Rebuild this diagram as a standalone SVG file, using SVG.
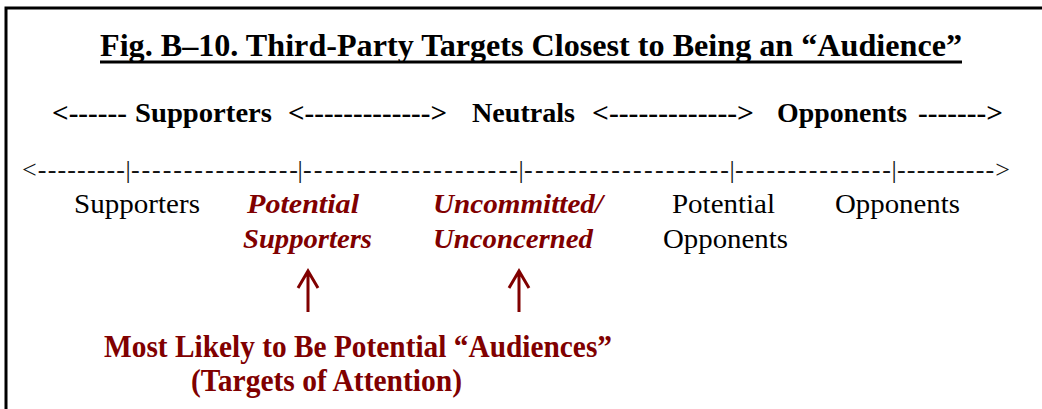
<svg xmlns="http://www.w3.org/2000/svg" width="1042" height="409" viewBox="0 0 1042 409">
<style>
.t{font-family:"Liberation Serif","Times New Roman",serif;}
.title{font-size:31px;font-weight:bold;fill:#000;}
.row{font-size:27px;font-weight:bold;fill:#000;}
.axis{font-size:26px;fill:#111;}
.lab{font-size:28px;fill:#000;}
.hl{font-size:28px;font-weight:bold;font-style:italic;fill:#800000;}
.bot{font-size:32px;font-weight:bold;fill:#800000;}
.arr{stroke:#800000;stroke-width:3;fill:none;}
.frame{stroke:#000;stroke-width:3;fill:none;}
</style>
<g id="frame">
<path class="frame" d="M6,409 V8 H1042"/>
</g>
<g id="title">
<text class="t title" x="100" y="56" textLength="862" lengthAdjust="spacingAndGlyphs">Fig. B–10. Third-Party Targets Closest to Being an “Audience”</text>
<rect x="100" y="60.5" width="862" height="3" fill="#000"/>
</g>
<g id="scale-header">
<text class="t row" x="52" y="122" textLength="75" lengthAdjust="spacingAndGlyphs">&lt;------</text>
<text class="t row" x="135" y="122" textLength="137" lengthAdjust="spacingAndGlyphs">Supporters</text>
<text class="t row" x="288" y="122" textLength="159" lengthAdjust="spacingAndGlyphs">&lt;-------------&gt;</text>
<text class="t row" x="472" y="122" textLength="103" lengthAdjust="spacingAndGlyphs">Neutrals</text>
<text class="t row" x="592" y="122" textLength="162" lengthAdjust="spacingAndGlyphs">&lt;-------------&gt;</text>
<text class="t row" x="777" y="122" textLength="130" lengthAdjust="spacingAndGlyphs">Opponents</text>
<text class="t row" x="918" y="122" textLength="85" lengthAdjust="spacingAndGlyphs">-------&gt;</text>
</g>
<g id="axis" opacity="0.99">
<text class="t axis" x="22" y="178" textLength="103">&lt;---------</text>
<text class="t axis" x="128" y="178" text-anchor="middle">|</text>
<text class="t axis" x="131" y="178" textLength="167">----------------</text>
<text class="t axis" x="300" y="178" text-anchor="middle">|</text>
<text class="t axis" x="303" y="178" textLength="215">--------------------</text>
<text class="t axis" x="521" y="178" text-anchor="middle">|</text>
<text class="t axis" x="524" y="178" textLength="205">-------------------</text>
<text class="t axis" x="732" y="178" text-anchor="middle">|</text>
<text class="t axis" x="735" y="178" textLength="156">---------------</text>
<text class="t axis" x="894" y="178" text-anchor="middle">|</text>
<text class="t axis" x="897" y="178" textLength="113">----------&gt;</text>
</g>
<g id="node-supporters">
<text class="t lab" x="74" y="213" textLength="126" lengthAdjust="spacingAndGlyphs">Supporters</text>
</g>
<g id="node-potential-supporters">
<text class="t hl" x="247" y="213" textLength="112" lengthAdjust="spacingAndGlyphs">Potential</text>
<text class="t hl" x="243" y="248" textLength="129" lengthAdjust="spacingAndGlyphs">Supporters</text>
</g>
<g id="node-uncommitted">
<text class="t hl" x="433" y="213" textLength="170" lengthAdjust="spacingAndGlyphs">Uncommitted/</text>
<text class="t hl" x="433" y="248" textLength="160" lengthAdjust="spacingAndGlyphs">Unconcerned</text>
</g>
<g id="node-potential-opponents">
<text class="t lab" x="672" y="213" textLength="103" lengthAdjust="spacingAndGlyphs">Potential</text>
<text class="t lab" x="663" y="248" textLength="125" lengthAdjust="spacingAndGlyphs">Opponents</text>
</g>
<g id="node-opponents">
<text class="t lab" x="835" y="213" textLength="125" lengthAdjust="spacingAndGlyphs">Opponents</text>
</g>
<g id="connectors">
<path class="arr" d="M308,312 V271 M298,288 L308,271 L318,288"/>
<path class="arr" d="M519,312 V271 M509,288 L519,271 L529,288"/>
</g>
<g id="node-audiences">
<text class="t bot" x="104" y="357" textLength="508" lengthAdjust="spacingAndGlyphs">Most Likely to Be Potential “Audiences”</text>
<text class="t bot" x="191" y="391" textLength="271" lengthAdjust="spacingAndGlyphs">(Targets of Attention)</text>
</g>
</svg>
